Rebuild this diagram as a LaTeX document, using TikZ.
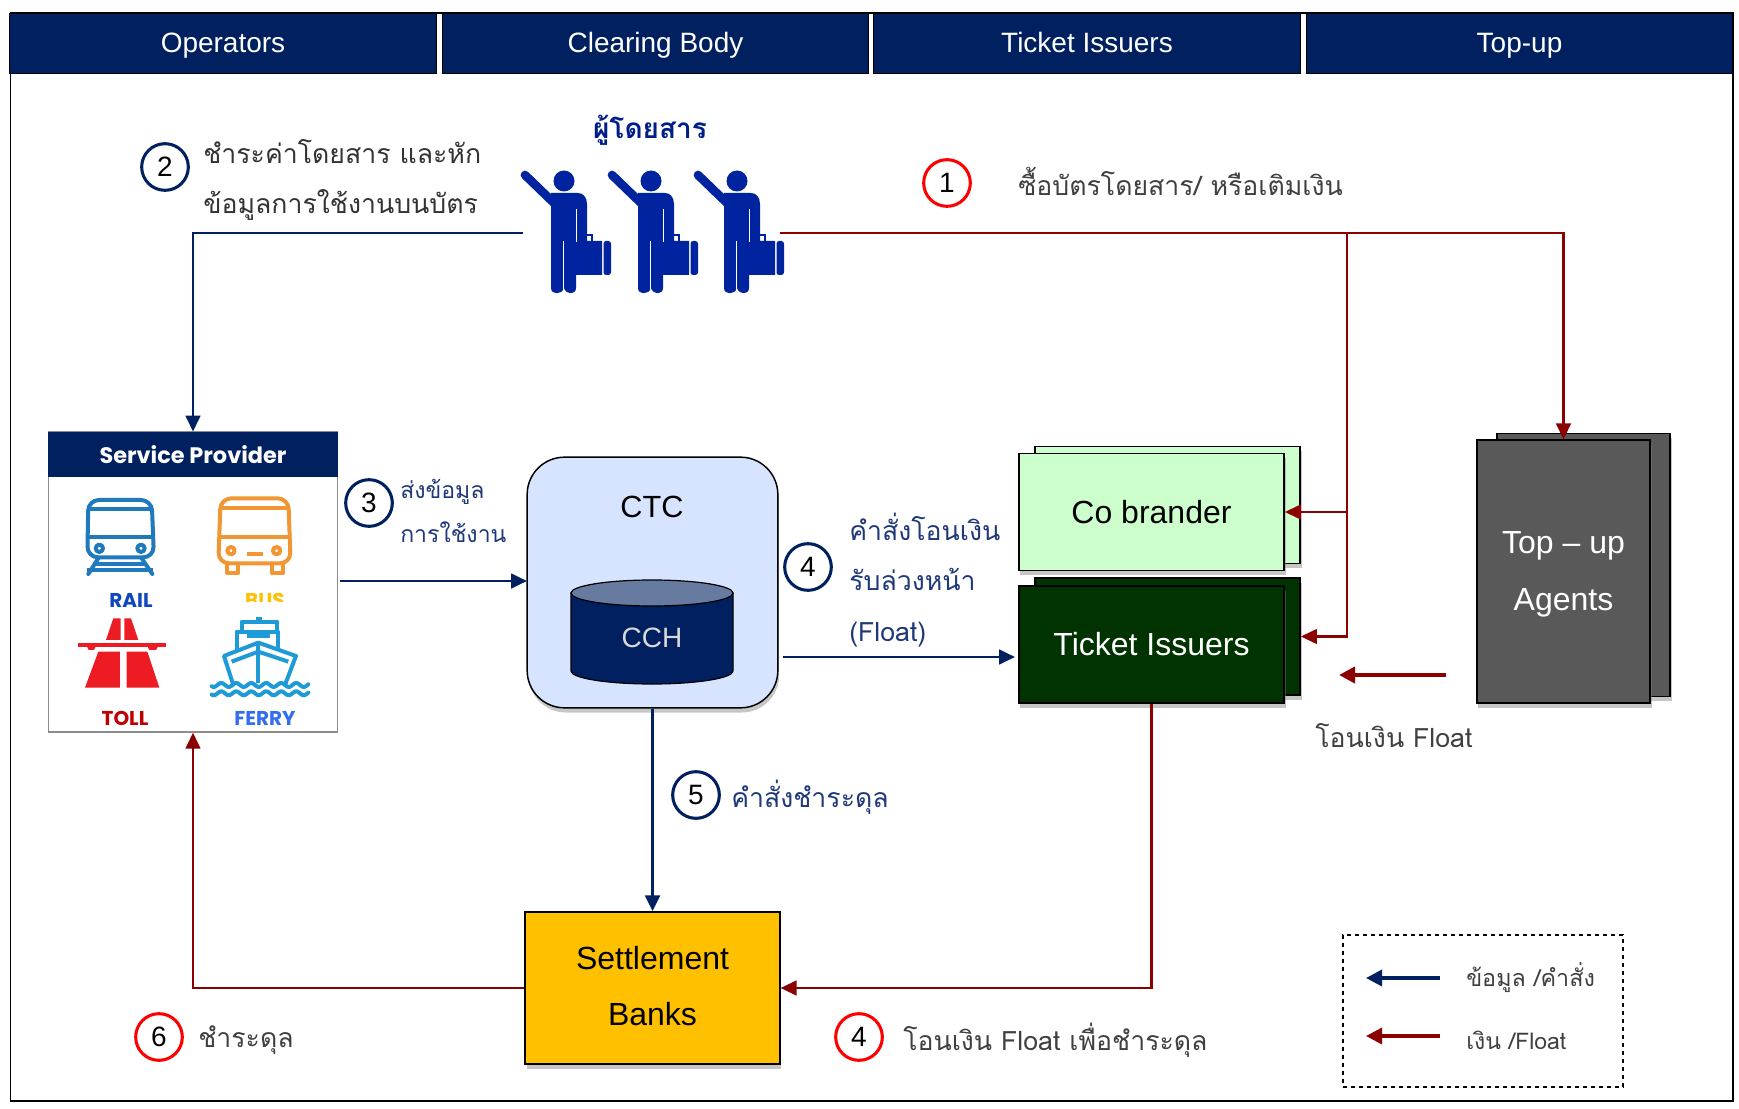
\documentclass[tikz,border=0pt]{standalone}
\usepackage{fontspec}
\setmainfont{Liberation Sans}
\newfontfamily\thaifont[Script=Thai]{Loma}
\newfontfamily\gothfont{Poppins}
\usetikzlibrary{arrows.meta,shadows}

\definecolor{navyfill}{RGB}{0,32,96}
\definecolor{moneyred}{RGB}{139,0,0}
\definecolor{paxblue}{RGB}{0,35,160}
\definecolor{labelblue}{RGB}{31,56,120}
\definecolor{railblue}{RGB}{31,122,189}
\definecolor{busorange}{RGB}{240,150,50}
\definecolor{tollred}{RGB}{237,28,36}
\definecolor{ferryblue}{RGB}{30,154,214}
\definecolor{ctcfill}{RGB}{214,228,255}
\definecolor{cantop}{RGB}{103,122,160}
\colorlet{topgray}{black!65}

\tikzset{
	hdrcell/.style={fill=navyfill,draw=black,line width=0.6pt,text=white,font=\fontsize{21}{25}\selectfont,minimum width=320pt,minimum height=45pt,inner sep=0pt,text height=20pt,text depth=5pt},
	boxshadow/.style={drop shadow={shadow xshift=1pt,shadow yshift=-3.5pt,opacity=0.45}},
	stackbox/.style={draw=black,line width=1.1pt,inner sep=0pt,minimum width=199pt,minimum height=88pt,font=\fontsize{24}{40}\selectfont,align=center},
	topbox/.style={draw=black,line width=1.1pt,fill=topgray,inner sep=0pt,minimum width=130pt,minimum height=197pt,text=white,font=\fontsize{24}{42.5}\selectfont,align=center},
	numcirc/.style={circle,draw=#1,line width=2.3pt,minimum size=35pt,inner sep=0pt,fill=white,font=\fontsize{21}{25}\selectfont},
	thailabel/.style={inner sep=0pt,anchor=west,align=left,font=\thaifont\fontsize{20}{38}\selectfont},
	dataline/.style={draw=navyfill,line width=2.1pt,-{Triangle[length=12pt,width=11pt]}},
	moneyline/.style={draw=moneyred,line width=1.8pt,-{Triangle[length=12pt,width=11pt]}},
}

\begin{document}
\begin{tikzpicture}[x=0.75pt,y=0.75pt,yscale=-1,xscale=1]
	\useasboundingbox (0,0) rectangle (1739,1109);

	%Outer frame
	\node[draw=black,line width=1pt,minimum width=1292pt,minimum height=816pt,inner sep=0pt] (frame) at (871.5,557) {};

	%Header cells
	\node[hdrcell] (opshdr) at (223,43) {Operators};
	\node[hdrcell] (clrhdr) at (655.5,43) {Clearing Body};
	\node[hdrcell] (tkthdr) at (1087,43) {Ticket Issuers};
	\node[hdrcell] (tophdr) at (1519.5,43) {Top-up};

	%Passengers
	\foreach \px in {564,651,737} {
		\begin{scope}[shift={(\px,181)}]
			\draw[paxblue,line width=6.5pt,line cap=round] (-39,-6) -- (-10,22);
			\fill[paxblue] (0,0) circle [radius=10.5];
			\fill[paxblue] (-13,12) -- (14,12) .. controls (19,12) and (23,16) .. (23,23) -- (23,60) -- (38,60) -- (38,94) -- (12,94) -- (12,107) .. controls (12,114) and (2,114) .. (0,107) -- (0,107) .. controls (-2,114) and (-13,114) .. (-13,107) -- cycle;
			\fill[paxblue,rounded corners=2pt] (39.5,60) -- (47,60) -- (47,94) -- (39.5,94) -- cycle;
			\draw[white,line width=0.9pt] (12.5,28) -- (12.5,61);
			\draw[white,line width=0.9pt] (-0.5,60) -- (-0.5,113);
			\draw[paxblue,line width=1.4pt] (17,60) -- (17,54) -- (28,54) -- (28,60);
		\end{scope}
	}
	\coordinate (paxleft) at (523,233);
	\coordinate (paxright) at (780,233);
	\coordinate (branch) at (1347,233);
	\node[inner sep=0pt,text=paxblue!85!black,font=\thaifont\bfseries\fontsize{21}{25}\selectfont] (paxlabel) at (650,130) {ผู้โดยสาร};

	%Service Provider box
	\node[draw=black!45,line width=1pt,fill=white,minimum width=217pt,minimum height=225pt,inner sep=0pt] (srvbox) at (193,582) {};
	\node[fill=navyfill,text=white,minimum width=218pt,minimum height=34pt,inner sep=0pt,font=\gothfont\bfseries\fontsize{16.8}{20}\selectfont] (srvhdr) at (193,454.5) {Service Provider};

	%Rail icon
	\begin{scope}[shift={(30,420)},scale=0.3333,railblue,line width=3pt,line join=round]
		\draw[rounded corners=8pt] (172,412) -- (175,240) -- (365,240) -- (372,412) -- cycle;
		\draw (175,268) -- (365,268);
		\draw (172,350) -- (370,350);
		\draw (208,385) circle [radius=11];
		\draw (333,385) circle [radius=11];
		\draw (170,450) -- (370,450);
		\draw[line cap=round] (205,415) -- (175,462);
		\draw[line cap=round] (335,415) -- (367,462);
		\draw (190,432) -- (350,432);
	\end{scope}

	%Bus icon
	\begin{scope}[shift={(30,420)},scale=0.3333,busorange,line width=3pt,line join=round]
		\draw[rounded corners=8pt] (565,430) -- (572,235) -- (775,235) -- (782,430) -- cycle;
		\draw (572,265) -- (775,265);
		\draw (568,350) -- (780,350);
		\draw (603,392) circle [radius=11];
		\draw (740,392) circle [radius=11];
		\draw (650,403) -- (700,403);
		\draw (590,430) -- (590,458) -- (625,458) -- (625,430);
		\draw (725,430) -- (725,458) -- (760,458) -- (760,430);
	\end{scope}

	%Toll icon
	\begin{scope}[shift={(30,420)},scale=0.3333]
		\fill[tollred] (250,595) -- (272,595) -- (272,660) -- (228,660) -- cycle;
		\fill[tollred] (283,595) -- (303,595) -- (325,660) -- (283,660) -- cycle;
		\fill[tollred] (205,695) -- (270,695) -- (270,803) -- (165,803) -- cycle;
		\fill[tollred] (290,695) -- (352,695) -- (388,803) -- (290,803) -- cycle;
		\draw[tollred,line width=2.4pt] (145,675) -- (408,675);
		\fill[tollred] (170,678) -- (198,678) -- (192,690) -- (176,690) -- cycle;
		\fill[tollred] (352,678) -- (385,678) -- (378,690) -- (358,690) -- cycle;
	\end{scope}

	%Ferry icon
	\begin{scope}[shift={(30,420)},scale=0.3333,ferryblue,line width=3pt,line join=round]
		\draw (610,795) -- (582,708) -- (685,668) -- (798,708) -- (765,795);
		\draw (685,668) -- (685,790);
		\draw (620,690) -- (620,635) -- (745,635) -- (745,685);
		\draw (635,635) -- (635,605) -- (742,605) -- (742,635);
		\fill (650,640) rectangle (720,655);
		\fill (678,590) rectangle (696,605);
		\draw (605,725) -- (685,695) -- (775,725);
		\draw[line cap=round] plot[domain=545:835,samples=60,smooth] (\x,{795+6*sin(8*\x)});
		\draw[line cap=round] plot[domain=545:835,samples=60,smooth] (\x,{820+6*sin(8*\x)});
	\end{scope}

	%Icon captions
	\node[inner sep=0pt,text={rgb,255:red,15;green,71;blue,190},font=\gothfont\bfseries\fontsize{15}{16}\selectfont] (raillabel) at (131,600) {RAIL};
	\begin{scope}
		\clip (220,580) rectangle (300,601);
		\node[inner sep=0pt,text={rgb,255:red,255;green,192;blue,0},font=\gothfont\bfseries\fontsize{15}{16}\selectfont] (buslabel) at (265,600) {BUS};
	\end{scope}
	\node[inner sep=0pt,text={rgb,255:red,192;green,0;blue,0},font=\gothfont\bfseries\fontsize{15}{16}\selectfont] (tolllabel) at (125,718) {TOLL};
	\node[inner sep=0pt,text={rgb,255:red,50;green,110;blue,240},font=\gothfont\bfseries\fontsize{15}{16}\selectfont] (ferrylabel) at (265,718) {FERRY};

	%CTC box
	\node[draw=black,line width=1.1pt,fill=ctcfill,rounded corners=28pt,minimum width=188pt,minimum height=188pt,inner sep=0pt,boxshadow] (ctc) at (652.5,582.5) {};
	\node[inner sep=0pt,font=\fontsize{23}{27}\selectfont] (ctclabel) at (652,507) {CTC};
	%Shape: Can
	\draw[black,line width=0.9pt,fill=navyfill] (571,593) -- (571,671) arc [start angle=180,end angle=0,x radius=81,y radius=13] -- (733,593) -- cycle;
	\draw[black,line width=0.9pt,fill=cantop] (652,593) ellipse [x radius=81,y radius=13];
	\node[inner sep=0pt,text=black!15,font=\fontsize{21}{25}\selectfont] (cch) at (652,638) {CCH};

	%Settlement Banks
	\node[draw=black,line width=1.1pt,fill={rgb,255:red,255;green,192;blue,0},minimum width=191pt,minimum height=114pt,inner sep=0pt,font=\fontsize{24}{42}\selectfont,align=center,boxshadow] (bank) at (652.5,988) {Settlement\\Banks\rule[-3.3pt]{0pt}{3.3pt}};

	%Co brander stack
	\node[stackbox,fill=green!20!white,boxshadow] (coback) at (1167.5,505) {};
	\node[stackbox,fill=green!20!white,boxshadow] (cofront) at (1151.5,512) {Co brander};

	%Ticket Issuers stack
	\node[stackbox,fill={rgb,255:red,0;green,51;blue,0},boxshadow] (tktback) at (1167.5,636.5) {};
	\node[stackbox,fill={rgb,255:red,0;green,51;blue,0},text=white,boxshadow] (tktfront) at (1151.5,644.5) {Ticket Issuers};

	%Top-up stack
	\node[topbox,boxshadow] (topback) at (1583.5,565) {};
	\node[topbox,boxshadow] (topfront) at (1563.5,571.5) {\rule{0pt}{20.7pt}Top -- up\\Agents};

	%Straight Lines
	\draw[dataline] (paxleft) -| (srvhdr.north);
	\draw[moneyline] (paxright) -| (topfront.north);
	\draw[moneyline] (branch) |- (cofront.east);
	\draw[moneyline] (branch) |- (tktback.east);
	\coordinate (srvout) at (340,581);
	\coordinate (ctcin) at (527,581);
	\draw[dataline] (srvout) -- (ctcin);
	\coordinate (ctcout) at (783,657);
	\coordinate (tktin) at (1015,657);
	\draw[dataline] (ctcout) -- (tktin);
	\draw[dataline,line width=2.6pt] (ctc.south) -- (bank.north);
	\draw[moneyline] (tktfront.south) |- (bank.east);
	\draw[moneyline] (bank.west) -| (srvbox.south);
	\coordinate (floatfrom) at (1446,675);
	\coordinate (floatto) at (1339,675);
	\draw[moneyline,line width=3.4pt,-{Triangle[length=12pt,width=12pt]}] (floatfrom) -- (floatto);

	%Number circles
	\node[numcirc=red] (numone) at (947,183) {1};
	\node[numcirc=navyfill] (numtwo) at (165,167) {2};
	\node[numcirc=navyfill] (numthree) at (369,503) {3};
	\node[numcirc=navyfill] (numfour) at (808,567) {4};
	\node[numcirc=navyfill] (numfive) at (696,795) {5};
	\node[numcirc=red] (numsix) at (159,1037) {6};
	\node[numcirc=red] (numfourb) at (859,1037) {4};

	% Text Node
	\node[thailabel,text=black!80] (txttwo) at (203,180) {ชำระค่าโดยสาร และหัก\\ข้อมูลการใช้งานบนบัตร};
	% Text Node
	\node[thailabel,text=black!75] (txtone) at (1018,181) {ซื้อบัตรโดยสาร/ หรือเติมเงิน};
	% Text Node
	\node[thailabel,text=labelblue,font=\thaifont\fontsize{17.3}{33}\selectfont] (txtthree) at (400,511) {ส่งข้อมูล\\การใช้งาน};
	% Text Node
	\node[thailabel,text=labelblue] (txtfour) at (849,580) {คำสั่งโอนเงิน\\รับล่วงหน้า\\(Float)};
	% Text Node
	\node[thailabel,text=labelblue] (txtfive) at (731,797) {คำสั่งชำระดุล};
	% Text Node
	\node[thailabel,text=black!75] (txtsix) at (198,1040) {ชำระดุล};
	% Text Node
	\node[thailabel,text=black!75] (txtfourb) at (903,1040) {โอนเงิน Float เพื่อชำระดุล};
	% Text Node
	\node[thailabel,text=black!75] (txtfloat) at (1315,736) {โอนเงิน Float};

	%Legend
	\node[draw=black,dashed,line width=1pt,minimum width=210pt,minimum height=114pt,inner sep=0pt] (legend) at (1483,1011) {};
	\coordinate (datafrom) at (1440,978);
	\coordinate (datato) at (1366,978);
	\coordinate (cashfrom) at (1440,1036);
	\coordinate (cashto) at (1366,1036);
	\draw[dataline,line width=2.6pt,-{Triangle[length=12pt,width=12pt]}] (datafrom) -- (datato);
	\draw[moneyline,line width=2.6pt,-{Triangle[length=12pt,width=12pt]}] (cashfrom) -- (cashto);
	\node[thailabel,text=black!75,font=\thaifont\fontsize{17.5}{25}\selectfont] (txtdata) at (1466,978) {ข้อมูล /คำสั่ง};
	\node[thailabel,text=black!75,font=\thaifont\fontsize{17.2}{25}\selectfont] (txtcash) at (1466,1040) {เงิน /Float};
\end{tikzpicture}
\end{document}
